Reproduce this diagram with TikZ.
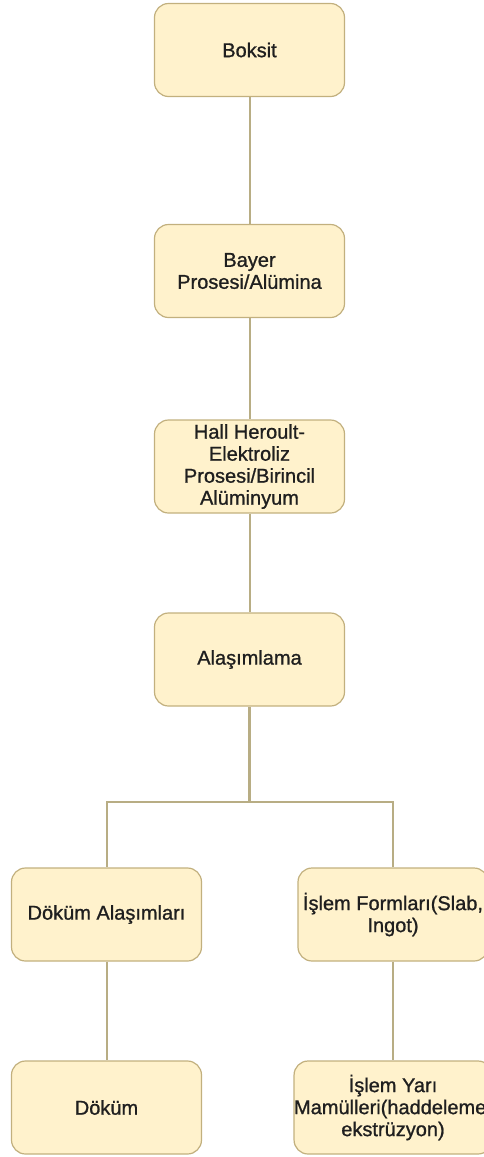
\documentclass[tikz,border=0pt]{standalone}
\usepackage{fontspec}
\setmainfont{Liberation Sans}
\newfontfamily\kutufont{Liberation Sans}[FakeBold=1]
\usepackage{xcolor}
\usetikzlibrary{calc}

\definecolor{boxfill}{HTML}{FFF2CC}
\definecolor{boxline}{HTML}{C2B07E}
\definecolor{linkline}{HTML}{B8AD84}

\begin{document}
\begin{tikzpicture}[x=1pt, y=1pt,
		adim/.style={draw=boxline, fill=boxfill, rounded corners=14pt, line width=1.2pt,
			minimum width=190pt, minimum height=93pt, inner sep=0pt, align=center,
			text=black!88, font=\kutufont\fontsize{20}{22}\selectfont},
		bag/.style={draw=linkline, line width=2pt}]
	\useasboundingbox (0,0) rectangle (483,-1157);

	\def\ortax{249.5};
	\def\solx{106.5};
	\def\sagx{393};

	\node [adim] (boksit) at (\ortax,-50) {Boksit};
	\node [adim] (bayer) at (\ortax,-271) {Bayer\\Prosesi/Alümina};
	\node [adim] (hall) at (\ortax,-466.5) {Hall Heroult-\\Elektroliz\\Prosesi/Birincil\\Alüminyum};
	\node [adim] (alasim) at (\ortax,-659.5) {Alaşımlama};

	\node [adim] (dokumal) at (\solx,-914.5) {Döküm Alaşımları};
	\node [adim] (islemform) at (\sagx,-914.5) {İşlem Formları(Slab,\\Ingot)};
	\node [adim] (dokum) at (\solx,-1107.5) {Döküm};
	\node [adim] (islemyari) at (\sagx,-1107.5) {İşlem Yarı\\Mamülleri(haddeleme,\\ekstrüzyon)};

	\coordinate (catal) at (\ortax,-802);

	\draw [bag] (boksit) -- (bayer);
	\draw [bag] (bayer) -- (hall);
	\draw [bag] (hall) -- (alasim);
	\draw [bag, line width=2.8pt] (alasim) -- (catal);
	\draw [bag] (catal) -| (dokumal);
	\draw [bag] (catal) -| (islemform);
	\draw [bag] (dokumal) -- (dokum);
	\draw [bag] (islemform) -- (islemyari);
\end{tikzpicture}
\end{document}
